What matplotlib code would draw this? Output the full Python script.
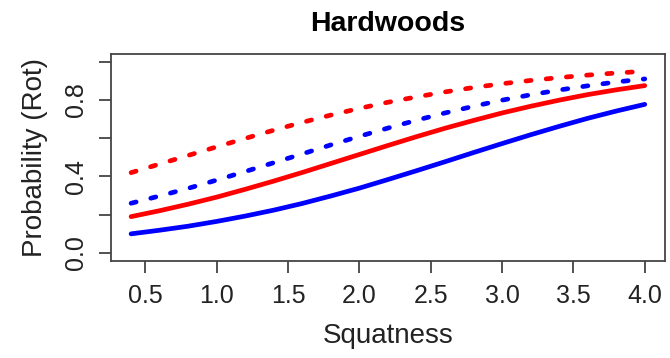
import matplotlib
matplotlib.use('Agg')
import matplotlib.pyplot as plt

plt.rcParams['font.family'] = ['Liberation Sans', 'DejaVu Sans']

# ── 데이터 ─────────────────────────────────────────────
squatness = [0.4, 0.6, 0.8, 1.0, 1.2, 1.4, 1.6, 1.8, 2.0, 2.2,
             2.4, 2.6, 2.8, 3.0, 3.2, 3.4, 3.6, 3.8, 4.0]

red_dashed = [0.420, 0.465, 0.510, 0.555, 0.599, 0.642, 0.683, 0.721, 0.756, 0.788,
              0.816, 0.842, 0.865, 0.885, 0.902, 0.917, 0.930, 0.941, 0.950]
blue_dashed = [0.260, 0.298, 0.338, 0.381, 0.426, 0.472, 0.518, 0.565, 0.610, 0.653,
               0.694, 0.732, 0.767, 0.799, 0.827, 0.852, 0.874, 0.894, 0.910]
red_solid = [0.190, 0.221, 0.255, 0.292, 0.333, 0.376, 0.421, 0.468, 0.515, 0.562,
             0.608, 0.652, 0.693, 0.732, 0.767, 0.799, 0.828, 0.853, 0.875]
blue_solid = [0.100, 0.119, 0.140, 0.165, 0.193, 0.224, 0.259, 0.298, 0.339, 0.384,
              0.430, 0.477, 0.525, 0.572, 0.618, 0.662, 0.704, 0.742, 0.777]

x_ticks = [0.5, 1.0, 1.5, 2.0, 2.5, 3.0, 3.5, 4.0]
y_ticks = [0.0, 0.2, 0.4, 0.6, 0.8, 1.0]
y_ticklabels = ['0.0', '', '0.4', '', '0.8', '']

# ── 그림 ─────────────────────────────────────────────────────
fig = plt.figure(figsize=(6.7, 3.58), dpi=100)
ax = fig.add_axes([0.165, 0.272, 0.828, 0.577])

lw = 3.4
ax.plot(squatness, red_dashed, color='#ff0000', lw=lw, dashes=(1.1, 3.2),
        dash_capstyle='round')
ax.plot(squatness, blue_dashed, color='#0000ff', lw=lw, dashes=(1.1, 3.2),
        dash_capstyle='round')
ax.plot(squatness, red_solid, color='#ff0000', lw=lw, solid_capstyle='round')
ax.plot(squatness, blue_solid, color='#0000ff', lw=lw, solid_capstyle='round')

ax.set_xlim(0.256, 4.144)
ax.set_ylim(-0.04, 1.04)
ax.set_xticks(x_ticks)
ax.set_xticklabels([f'{v:.1f}' for v in x_ticks])
ax.set_yticks(y_ticks)
ax.set_yticklabels(y_ticklabels, rotation=90, va='center')

for s in ax.spines.values():
    s.set_color('#444444')
    s.set_linewidth(1.3)
ax.tick_params(length=8.5, width=1.3, color='#444444', labelsize=18,
               labelcolor='#222222', pad=8)

ax.set_title('Hardwoods', fontsize=20.5, fontweight='bold', pad=16.5)
ax.set_xlabel('Squatness', fontsize=20, color='#222222', labelpad=11)
ax.set_ylabel('Probability (Rot)', fontsize=20, color='#222222', labelpad=11)

plt.savefig('out.png', dpi=100)
plt.close()
